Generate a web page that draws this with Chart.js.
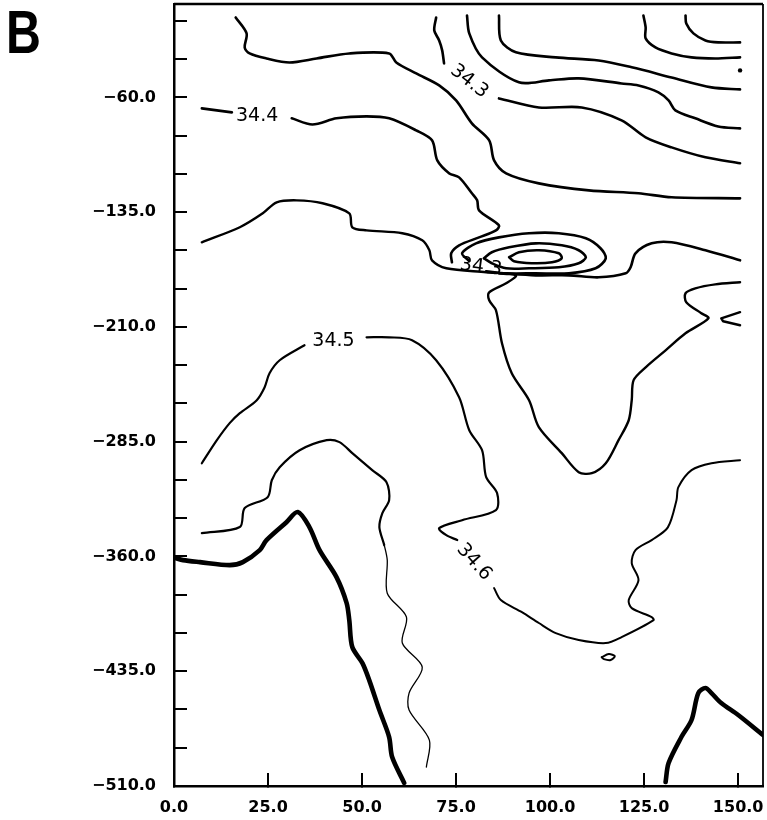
<!DOCTYPE html>
<html>
<head>
<meta charset="utf-8">
<script src="https://cdn.jsdelivr.net/npm/chart.js@4/dist/chart.umd.min.js"></script>
<style>
  body { margin: 0; background: #fff; }
  #wrap { position: relative; width: 767px; height: 820px; }
</style>
</head>
<body>
<div id="wrap"><canvas id="myChart" width="767" height="820"></canvas></div>
<script>
// Axis ticks
const xTickValues = [0, 25, 50, 75, 100, 125, 150];
const yTickValues = [-510, -485, -460, -435, -410, -385, -360, -335, -310, -285, -260,
  -235, -210, -185, -160, -135, -110, -85, -60, -35, -10];
const yLabelValues = [-510, -435, -360, -285, -210, -135, -60];

// Contour lines, [x, y] pairs
const lineTopA = [[136.0, -6.5], [136.2, -11.7], [138.1, -18.2], [141.3, -22.8], [144.7, -24.1], [150.5, -24.1]];
const lineTopB = [[124.8, -6.5], [125.4, -14.3], [125.4, -21.5], [128.0, -27.4], [132.3, -31.3], [137.6, -33.9], [143.9, -34.6], [150.5, -33.9]];
const lineTopC = [[86.4, -6.5], [86.9, -22.8], [90.9, -30.6], [101.5, -33.9], [112.9, -35.9], [121.7, -40.4], [132.3, -47.0], [142.9, -53.5], [150.5, -54.8]];
const lineTopD = [[77.9, -6.5], [78.5, -18.2], [81.9, -33.9], [91.7, -50.2], [99.7, -48.9], [107.6, -47.6], [119.0, -50.9], [123.5, -52.2], [128.8, -56.7], [131.5, -62.0], [133.3, -68.5], [138.6, -73.7], [144.7, -79.0], [150.5, -80.3]];
const line343Left = [[69.7, -7.8], [69.2, -16.3], [70.5, -22.8], [71.3, -29.3], [71.8, -37.8]];
const line343Right = [[86.4, -60.7], [97.0, -66.6], [108.4, -66.6], [119.0, -75.0], [125.4, -86.1], [132.3, -92.7], [141.3, -99.2], [150.5, -103.1]];
const lineUpper = [[16.4, -7.8], [19.3, -18.2], [18.8, -27.4], [20.1, -31.3], [24.6, -34.6], [30.7, -37.2], [37.9, -34.6], [46.6, -31.3], [57.2, -31.3], [59.1, -37.2], [64.4, -44.4], [70.5, -52.2], [75.0, -62.0], [79.2, -77.0], [83.8, -88.1], [85.1, -101.2], [88.3, -109.7], [97.0, -116.2], [110.3, -120.8], [123.5, -122.7], [132.3, -125.3], [150.5, -126.0]];
const line344Left = [[7.4, -67.2], [15.4, -69.8]];
const line344Mid = [[31.3, -73.7], [36.8, -77.7], [43.2, -73.7], [51.2, -72.4], [57.2, -73.7], [64.4, -81.6], [68.6, -88.1], [70.0, -101.2], [73.2, -109.7], [75.8, -112.3], [79.2, -122.7], [80.6, -127.3], [81.1, -133.8], [86.4, -143.6], [85.6, -146.9], [81.1, -151.5], [75.8, -156.7], [73.7, -161.9], [73.9, -167.8]];
const line344Right = [[86.4, -175.0], [96.2, -176.3], [105.0, -176.3], [112.9, -177.6], [120.1, -175.0], [121.4, -171.0], [122.7, -161.9], [127.0, -155.4], [132.3, -154.7], [141.3, -159.9], [150.5, -166.5]];
const ringInner = [[89.1, -164.5], [91.7, -161.2], [97.0, -159.9], [102.3, -161.9], [103.1, -165.2], [100.5, -167.8], [95.1, -168.4], [90.4, -167.1], [89.1, -164.5]];
const ringMiddle = [[82.4, -165.2], [84.5, -161.2], [89.1, -158.0], [96.2, -155.4], [103.1, -156.7], [107.6, -159.9], [109.5, -164.5], [107.6, -168.4], [102.3, -171.0], [94.4, -171.7], [88.3, -171.7], [84.5, -168.4], [82.4, -165.2]];
const ringOuter = [[78.5, -167.0], [76.6, -161.9], [80.3, -155.4], [86.4, -151.5], [94.4, -148.8], [102.3, -148.8], [109.5, -152.1], [113.4, -158.6], [114.8, -165.2], [112.1, -171.7], [105.0, -175.0], [96.2, -175.0], [88.3, -175.0], [83.0, -173.7]];
const lineV = [[7.4, -154.7], [17.5, -144.9], [23.6, -135.8], [27.3, -128.6], [32.6, -127.3], [39.5, -129.2], [46.6, -135.8], [47.4, -144.9], [51.2, -146.9], [60.7, -148.8], [66.0, -153.4], [67.9, -159.9], [68.6, -166.5], [72.4, -171.7], [83.0, -174.3], [90.9, -176.3], [88.3, -181.5], [83.8, -187.4], [83.8, -192.6], [85.6, -199.1], [87.2, -220.7], [89.8, -240.3], [94.4, -257.9], [97.0, -275.5], [103.1, -292.5], [107.6, -304.9], [111.1, -305.6], [114.8, -299.1], [118.2, -284.0], [120.9, -271.0], [121.7, -257.9], [122.2, -244.8], [125.4, -236.4], [130.7, -225.3], [136.0, -214.2], [142.1, -204.4], [140.2, -201.1], [136.2, -193.9], [136.0, -188.0], [138.6, -184.8], [143.9, -182.2], [150.5, -180.8]];
const lineNotch = [[150.5, -200.4], [145.5, -204.4], [146.0, -206.3], [150.5, -208.9]];
const line345Left = [[7.4, -299.1], [11.4, -284.0], [14.8, -272.9], [17.5, -266.4], [22.0, -257.9], [24.1, -249.4], [25.4, -240.3], [28.1, -231.8], [34.7, -222.0]];
const line345Mid = [[51.2, -216.8], [57.2, -216.8], [63.3, -218.7], [69.7, -231.8], [75.8, -256.0], [78.5, -277.5], [81.9, -290.6], [83.0, -308.2], [85.9, -318.6], [85.6, -329.7], [76.6, -336.3], [70.5, -341.5], [72.4, -346.1], [75.3, -349.3]];
const line346Right = [[85.1, -380.7], [86.9, -388.5], [92.5, -396.4], [97.0, -403.5], [101.5, -410.1], [107.6, -414.6], [114.8, -416.6], [119.0, -412.7], [127.5, -401.6], [127.0, -399.6], [121.7, -393.8], [120.9, -388.5], [123.5, -375.5], [121.7, -364.4], [122.7, -355.9], [127.0, -349.3], [131.3, -341.0], [133.6, -323.2], [134.1, -314.7], [137.6, -303.6], [142.9, -299.1], [150.5, -297.1]];
const lineThin = [[7.4, -344.8], [17.5, -340.8], [18.8, -328.4], [24.9, -321.3], [26.0, -310.2], [28.1, -301.7], [33.4, -290.6], [40.6, -284.0], [44.0, -285.3], [47.4, -292.5], [52.7, -303.6], [56.5, -311.5], [57.2, -323.2], [55.4, -331.7], [54.6, -340.8], [55.9, -352.6], [56.7, -362.4], [56.7, -384.0], [61.8, -399.6], [60.7, -416.6], [66.0, -432.3], [62.5, -449.3], [62.5, -460.4], [67.9, -480.0], [67.1, -497.6]];
const loopSmall = [[113.7, -425.8], [115.6, -423.8], [117.2, -425.1], [116.1, -427.7], [114.3, -427.1], [113.7, -425.8]];
const bottomWest = [[0.3, -361.1], [2.4, -362.4], [6.9, -363.7], [14.8, -365.7], [18.3, -363.7], [22.8, -355.9], [24.6, -349.3], [29.9, -337.6], [32.9, -331.0], [36.0, -340.8], [38.7, -355.9], [43.2, -373.5], [45.9, -390.5], [46.6, -401.6], [47.4, -419.2], [50.1, -429.7], [51.9, -440.8], [54.6, -460.4], [57.2, -478.0], [58.0, -491.1], [61.2, -508.0]];
const bottomEast = [[130.7, -507.4], [131.5, -495.0], [134.9, -478.0], [137.6, -466.9], [139.4, -449.3], [141.3, -446.0], [142.9, -449.3], [145.5, -455.8], [150.0, -463.6], [156.6, -476.7]];
const dotPoints = [[150.5, -42.4]];

// Contour labels
const labelTexts = ['34.3', '34.4', '34.3', '34.5', '34.6'];
const labelX = [78.5, 22.1, 81.6, 42.4, 79.8];
const labelY = [-49.6, -72.4, -171.0, -219.4, -363.7];
const labelAngles = [38, 0, 8, 0, 48];

function toPoints(arr) {
  return arr.map(p => ({x: p[0], y: p[1]}));
}

function contour(arr, width, tension) {
  return {
    data: toPoints(arr),
    showLine: true,
    borderColor: '#000',
    borderWidth: width,
    pointRadius: 0,
    tension: tension === undefined ? 0.3 : tension,
    fill: false,
    borderCapStyle: 'round',
    borderJoinStyle: 'round'
  };
}

const datasets = [
  contour(lineTopA, 2.6), contour(lineTopB, 2.6), contour(lineTopC, 2.6), contour(lineTopD, 2.6),
  contour(line343Left, 2.6), contour(line343Right, 2.6), contour(lineUpper, 2.6),
  contour(line344Left, 2.6), contour(line344Mid, 2.6), contour(line344Right, 2.6),
  contour(ringInner, 2.6), contour(ringMiddle, 2.6), contour(ringOuter, 2.6),
  contour(lineV, 2.4), contour(lineNotch, 2.4, 0),
  contour(line345Left, 2.2), contour(line345Mid, 2.2), contour(line346Right, 2.0),
  contour(loopSmall, 2.0), contour(bottomWest, 4.6), contour(bottomEast, 4.6)
];

const thin = contour(lineThin, 1.4);
thin.segment = { borderWidth: c => c.p0.parsed.y > -345 ? 2.2 : 1.3 };
datasets.push(thin);

datasets.push({
  data: toPoints(dotPoints),
  showLine: false,
  pointRadius: 2.2,
  pointBackgroundColor: '#000',
  pointBorderWidth: 0
});

// frame, contour labels and the panel letter
const extras = {
  id: 'extras',
  afterDraw(chart) {
    const ctx = chart.ctx;
    const a = chart.chartArea;
    const xs = chart.scales.x;
    const ys = chart.scales.y;
    ctx.save();
    ctx.strokeStyle = '#000';
    ctx.lineWidth = 2.5;
    ctx.beginPath();
    ctx.moveTo(a.left, a.top);
    ctx.lineTo(a.right, a.top);
    ctx.stroke();
    ctx.lineWidth = 1.8;
    ctx.beginPath();
    ctx.moveTo(a.right, a.top);
    ctx.lineTo(a.right, a.bottom);
    ctx.stroke();

    ctx.fillStyle = '#000';
    ctx.font = '19px "DejaVu Sans"';
    ctx.textAlign = 'center';
    ctx.textBaseline = 'middle';
    labelTexts.forEach((t, i) => {
      ctx.save();
      ctx.translate(xs.getPixelForValue(labelX[i]), ys.getPixelForValue(labelY[i]));
      ctx.rotate(labelAngles[i] * Math.PI / 180);
      ctx.fillText(t, 0, 0);
      ctx.restore();
    });

    ctx.save();
    ctx.translate(6, 53);
    ctx.scale(0.78, 1);
    ctx.font = 'bold 62px "Liberation Sans"';
    ctx.textAlign = 'left';
    ctx.textBaseline = 'alphabetic';
    ctx.fillText('B', 0, 0);
    ctx.restore();
    ctx.restore();
  }
};

const tickFont = {family: 'DejaVu Sans', size: 16, weight: 'bold'};

function noPadding(s) {
  s.paddingLeft = 0;
  s.paddingRight = 0;
  s.paddingTop = 0;
  s.paddingBottom = 0;
}

const ctx = document.getElementById('myChart').getContext('2d');
const chart = new Chart(ctx, {
  type: 'scatter',
  data: { datasets: datasets },
  plugins: [extras],
  options: {
    responsive: false,
    devicePixelRatio: 1,
    animation: false,
    layout: { padding: { left: 0, right: 2, top: 4, bottom: 0 } },
    plugins: { legend: { display: false }, tooltip: { enabled: false } },
    scales: {
      x: {
        type: 'linear',
        position: 'bottom',
        min: 0,
        max: 156.6,
        afterBuildTicks: s => { s.ticks = xTickValues.map(v => ({value: v})); },
        afterFit: s => { s.height = 34; noPadding(s); },
        ticks: {
          callback: v => v.toFixed(1),
          font: tickFont,
          color: '#000',
          padding: 25,
          autoSkip: false,
          maxRotation: 0
        },
        grid: { drawOnChartArea: false, drawTicks: true, tickLength: -13, color: '#000', lineWidth: 2 },
        border: { display: true, color: '#000', width: 2.5 }
      },
      y: {
        type: 'linear',
        min: -510,
        max: 1,
        afterBuildTicks: s => { s.ticks = yTickValues.map(v => ({value: v})); },
        afterFit: s => { s.width = 174; noPadding(s); },
        ticks: {
          callback: v => yLabelValues.includes(v) ? '\u2212' + Math.abs(v).toFixed(1) : '',
          font: tickFont,
          color: '#000',
          padding: 31,
          autoSkip: false
        },
        grid: { drawOnChartArea: false, drawTicks: true, tickLength: -13, color: '#000', lineWidth: 2 },
        border: { display: true, color: '#000', width: 2.5 }
      }
    }
  }
});
</script>
</body>
</html>
